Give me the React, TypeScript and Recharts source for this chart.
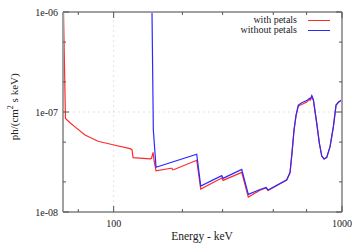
import React from 'react';
import {Line, LineChart, ReferenceLine, XAxis, YAxis} from 'recharts';

// energy axis (keV) and flux axis ticks
const energyTicks = [60, 70, 80, 90, 100, 200, 300, 400, 500, 600, 700, 800, 900, 1000];
const fluxTicks = [
    1e-8, 2e-8, 3e-8, 4e-8, 5e-8, 6e-8, 7e-8, 8e-8, 9e-8,
    1e-7, 2e-7, 3e-7, 4e-7, 5e-7, 6e-7, 7e-7, 8e-7, 9e-7, 1e-6,
];

// spectrum with petals
const withPetalsEnergy = [
    60.3, 61.5, 64.4, 67.7, 74.9, 85.4, 99.3, 117.9, 120.3, 121.6, 144.3, 146.5, 148.8, 150.5,
    153.3, 178.3, 180.0, 181.4, 184.0, 231.1, 240.6, 297.4, 301.3, 363.8, 388.8, 437.6, 464.9,
    474.4, 572.8, 592.2, 604.3, 616.3, 629.2, 643.9, 666.2, 700.9, 719.5, 728.0, 737.5, 749.5,
    775.3, 796.0, 815.5, 834.6, 857.5, 886.4, 916.8, 941.9, 964.2, 997.8,
];
const withPetalsFlux = [
    1.0e-6, 8.6e-8, 7.8e-8, 7.1e-8, 5.9e-8, 5.1e-8, 4.7e-8, 4.3e-8, 4.2e-8, 3.5e-8, 3.4e-8, 3.45e-8, 3.95e-8, 3.2e-8,
    2.58e-8, 2.74e-8, 2.74e-8, 2.64e-8, 2.66e-8, 3.29e-8, 1.7e-8, 2.19e-8, 2.07e-8, 2.49e-8, 1.41e-8, 1.65e-8, 1.74e-8,
    1.64e-8, 2.08e-8, 2.45e-8, 3.9e-8, 6.5e-8, 9.2e-8, 1.15e-7, 1.19e-7, 1.26e-7, 1.33e-7, 1.32e-7, 1.43e-7, 1.31e-7,
    7.7e-8, 4.86e-8, 3.63e-8, 3.39e-8, 3.52e-8, 4.5e-8, 7.13e-8, 1.17e-7, 1.25e-7, 1.32e-7,
];

// spectrum without petals
const withoutPetalsEnergy = [
    147.2, 149.2, 153.3, 231.1, 240.6, 297.4, 301.3, 363.8, 388.8, 437.6, 464.9, 474.4, 572.8,
    592.2, 604.3, 616.3, 629.2, 643.9, 666.2, 700.9, 719.5, 728.0, 737.5, 749.5, 775.3, 796.0,
    815.5, 834.6, 857.5, 886.4, 916.8, 941.9, 964.2, 997.8,
];
const withoutPetalsFlux = [
    1.0e-6, 6.6e-8, 2.8e-8, 3.78e-8, 1.82e-8, 2.31e-8, 2.17e-8, 2.67e-8, 1.5e-8, 1.68e-8, 1.76e-8, 1.66e-8, 2.1e-8,
    2.5e-8, 3.98e-8, 6.61e-8, 9.33e-8, 1.175e-7, 1.24e-7, 1.30e-7, 1.37e-7, 1.36e-7, 1.46e-7, 1.32e-7, 7.7e-8, 4.86e-8,
    3.63e-8, 3.39e-8, 3.52e-8, 4.5e-8, 7.13e-8, 1.175e-7, 1.25e-7, 1.32e-7,
];

const withPetals = withPetalsEnergy.map((energy, i) => ({energy, flux: withPetalsFlux[i]}));
const withoutPetals = withoutPetalsEnergy.map((energy, i) => ({energy, flux: withoutPetalsFlux[i]}));

const FONT = '"Liberation Serif", "DejaVu Serif", serif';
const TICK = '#555';
const BORDER = {stroke: '#a0a0a0', strokeWidth: 2};

const isDecade = (v: number) => Math.abs(Math.log10(v) - Math.round(Math.log10(v))) < 1e-6;
const expLabel = (v: number) => {
    const e = Math.round(Math.log10(v));
    return `1e${e < 0 ? '-' : '+'}${String(Math.abs(e)).padStart(2, '0')}`;
};

function BottomTick({x, y, payload}: any) {
    const major = isDecade(payload.value);
    return (
        <g>
            <line x1={x} y1={y} x2={x} y2={y - (major ? 6 : 3)} stroke={TICK}/>
            {major && (
                <text x={x} y={y + 15} textAnchor="middle" fontSize={10} fontFamily={FONT} fill="#222">
                    {payload.value}
                </text>
            )}
        </g>
    );
}

function TopTick({x, y, payload}: any) {
    const major = isDecade(payload.value);
    return <line x1={x} y1={y} x2={x} y2={y + (major ? 6 : 3)} stroke={TICK}/>;
}

function LeftTick({x, y, payload}: any) {
    const major = isDecade(payload.value);
    return (
        <g>
            <line x1={x} y1={y} x2={x + (major ? 6 : 3)} y2={y} stroke={TICK}/>
            {major && (
                <text x={x - 5} y={y + 3.5} textAnchor="end" fontSize={10} fontFamily={FONT} fill="#222">
                    {expLabel(payload.value)}
                </text>
            )}
        </g>
    );
}

function RightTick({x, y, payload}: any) {
    const major = isDecade(payload.value);
    return <line x1={x} y1={y} x2={x - (major ? 6 : 3)} y2={y} stroke={TICK}/>;
}

function LegendRow({label, color, top}: { label: string, color: string, top: number }) {
    return (
        <div style={{position: 'absolute', right: 29, top, height: 10, display: 'flex', alignItems: 'center'}}>
            <span style={{fontSize: 10, lineHeight: '10px', fontFamily: FONT, color: '#222'}}>{label}</span>
            <span style={{display: 'inline-block', width: 22, marginLeft: 11, borderTop: `1.5px solid ${color}`}}></span>
        </div>
    );
}

export default function App(): React.ReactElement {
    return (
        <div style={{position: 'absolute', left: 0, top: 0, width: 359, height: 252, background: '#fff'}}>
            <LineChart width={359} height={252} margin={{top: 0, right: 0, bottom: 0, left: 0}}>
                <XAxis xAxisId="top" orientation="top" type="number" dataKey="energy" scale="log"
                       domain={[60, 1000]} allowDataOverflow ticks={energyTicks} height={12}
                       tickSize={0} tickMargin={0} tickLine={false} axisLine={BORDER} tick={<TopTick/>}/>
                <XAxis type="number" dataKey="energy" scale="log" domain={[60, 1000]} allowDataOverflow
                       ticks={energyTicks} height={40} tickSize={0} tickMargin={0} tickLine={false}
                       axisLine={BORDER} tick={<BottomTick/>}/>
                <YAxis type="number" dataKey="flux" scale="log" domain={[1e-8, 1e-6]} allowDataOverflow
                       ticks={fluxTicks} width={63} tickSize={0} tickMargin={0} tickLine={false}
                       axisLine={BORDER} tick={<LeftTick/>}/>
                <YAxis yAxisId="right" orientation="right" type="number" scale="log" domain={[1e-8, 1e-6]}
                       allowDataOverflow ticks={fluxTicks} width={17} tickSize={0} tickMargin={0}
                       tickLine={false} axisLine={BORDER} tick={<RightTick/>}/>
                <ReferenceLine x={100} stroke="#e2e2e2" strokeDasharray="2 3"/>
                <ReferenceLine y={1e-7} stroke="#e2e2e2" strokeDasharray="2 3"/>
                <Line data={withPetals} dataKey="flux" type="linear" stroke="#ff2a2a" strokeWidth={1.2}
                      dot={false} isAnimationActive={false}/>
                <Line data={withoutPetals} dataKey="flux" type="linear" stroke="#2a2aff" strokeWidth={1.2}
                      dot={false} isAnimationActive={false}/>
            </LineChart>
            <LegendRow label="with petals" color="#ff2a2a" top={15}/>
            <LegendRow label="without petals" color="#2a2aff" top={25}/>
            <div style={{position: 'absolute', left: 152, top: 230, width: 100, textAlign: 'center',
                fontSize: 11.5, fontFamily: FONT, color: '#222', whiteSpace: 'nowrap'}}>
                Energy - keV
            </div>
            <div style={{position: 'absolute', left: -37, top: 100, width: 100, textAlign: 'center',
                fontSize: 11, fontFamily: FONT, color: '#222', whiteSpace: 'nowrap', transform: 'rotate(-90deg)'}}>
                ph/(cm<sup style={{fontSize: 8}}>2</sup> s keV)
            </div>
        </div>
    );
}
